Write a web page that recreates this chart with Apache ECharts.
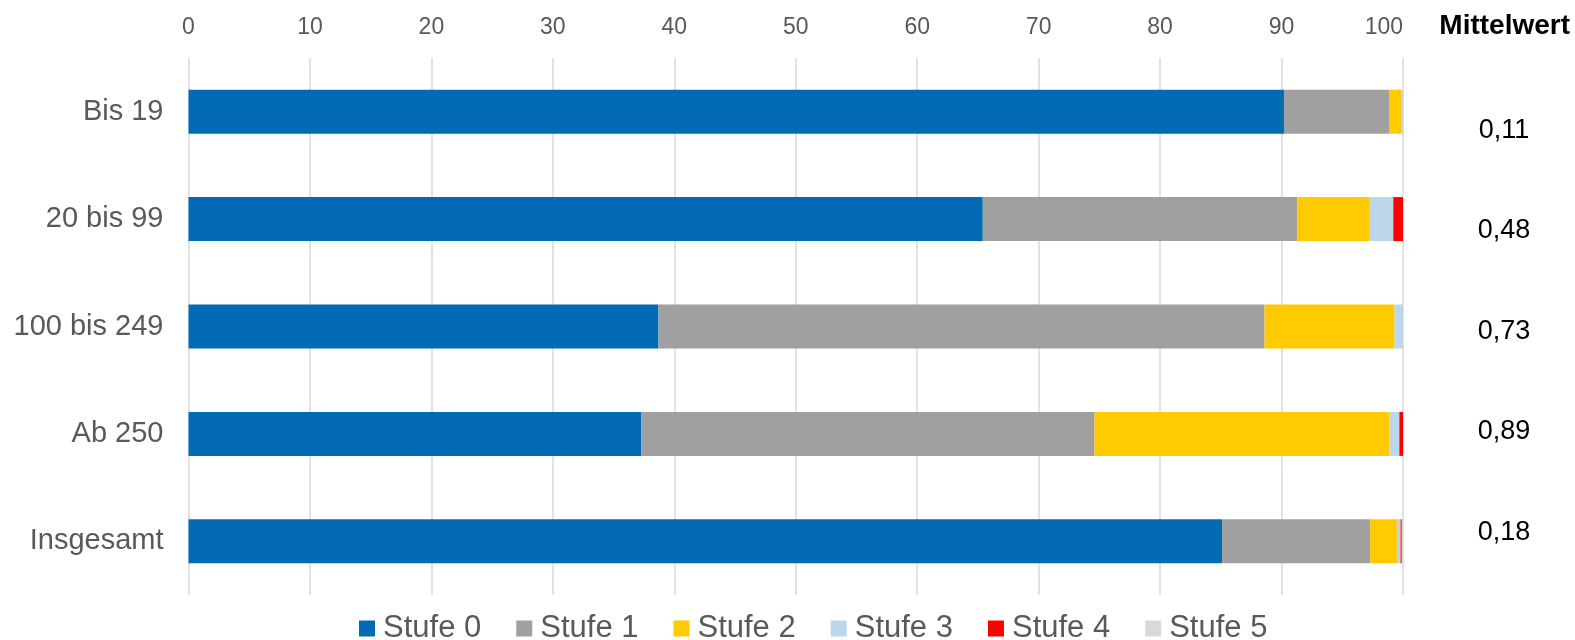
<!DOCTYPE html>
<html>
<head>
<meta charset="utf-8">
<script src="https://cdn.jsdelivr.net/npm/echarts@6/dist/echarts.min.js"></script>
<style>html,body{margin:0;padding:0;background:#fff;}#c{width:1575px;height:640px;}</style>
</head>
<body>
<div id="c"></div>
<script>
const categories = ['Bis 19', '20 bis 99', '100 bis 249', 'Ab 250', 'Insgesamt'];
const seriesNames = ['Stufe 0', 'Stufe 1', 'Stufe 2', 'Stufe 3', 'Stufe 4', 'Stufe 5'];
const stufe0 = [90.2, 65.4, 38.7, 37.3, 85.1];
const stufe1 = [8.7, 25.9, 49.9, 37.3, 12.2];
const stufe2 = [1.0, 5.9, 10.7, 24.3, 2.2];
const stufe3 = [0.1, 2.0, 0.7, 0.8, 0.3];
const stufe4 = [0, 0.8, 0, 0.3, 0.1];
const stufe5 = [0, 0, 0, 0, 0.1];
const mittelwert = ['0,11', '0,48', '0,73', '0,89', '0,18'];
const xTicks = [0, 10, 20, 30, 40, 50, 60, 70, 80, 90, 100];

const colors = ['#036bb4', '#a0a0a0', '#ffcb00', '#bdd7ea', '#ff0000', '#d9d9d9'];
const values = [stufe0, stufe1, stufe2, stufe3, stufe4, stufe5];
const font = '"Liberation Sans", Arial, sans-serif';

const chart = echarts.init(document.getElementById('c'), null, {renderer: 'canvas'});
const gridTop = 58, gridBottom = 45;
const graphics = [{
  type: 'text', right: 5, top: 12,
  style: {text: 'Mittelwert', font: 'bold 28px ' + font, fill: '#000'}
}];
mittelwert.forEach((m, i) => {
  graphics.push({
    type: 'text', x: 1504, y: 130.5 + i * 100.4,
    style: {text: m, font: '27px ' + font, fill: '#000', textAlign: 'center', textVerticalAlign: 'middle'}
  });
});

chart.setOption({
  animation: false,
  textStyle: {fontFamily: font},
  grid: {left: 188.5, right: 172, top: gridTop, bottom: gridBottom},
  xAxis: {
    type: 'value', position: 'top', min: 0, max: 100, interval: 10,
    axisLine: {show: false}, axisTick: {show: false},
    splitLine: {show: true, lineStyle: {color: '#d9d9d9', width: 1.5}},
    axisLabel: {color: '#595959', fontSize: 23, margin: 19, fontFamily: font,
      alignMaxLabel: 'right',
      formatter: v => xTicks.includes(v) ? String(v) : ''}
  },
  yAxis: {
    type: 'category', data: categories, inverse: true,
    axisLine: {show: false}, axisTick: {show: false},
    axisLabel: {color: '#595959', fontSize: 29, margin: 25, fontFamily: font}
  },
  legend: {
    top: 613, left: 359, itemWidth: 16, itemHeight: 16, itemGap: 35,
    padding: 0,
    icon: 'rect',
    textStyle: {color: '#595959', fontSize: 31, fontFamily: font, padding: [0, 0, 0, 3]},
    data: seriesNames
  },
  series: seriesNames.map((n, i) => ({
    name: n, type: 'bar', stack: 'total', data: values[i], barWidth: 44,
    itemStyle: {color: colors[i]}
  })),
  graphic: graphics
});
</script>
</body>
</html>
